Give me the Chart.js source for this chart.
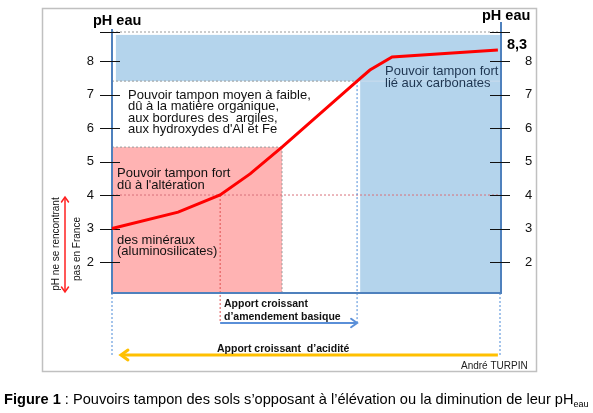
<!DOCTYPE html>
<html>
<head>
<meta charset="utf-8">
<script src="https://cdn.jsdelivr.net/npm/chart.js@4"></script>
<style>
  body { margin: 0; background: #fff; font-family: "Liberation Sans", Arial, sans-serif; }
  #wrap { position: relative; width: 593px; height: 413px; }
  #caption { position: absolute; left: 4px; top: 391px; font-size: 14.6px; line-height: 17px; color: #000; white-space: nowrap; }
  #caption sub { font-size: 9px; vertical-align: -3px; }
</style>
</head>
<body>
<div id="wrap">
  <canvas id="myChart" width="593" height="413"></canvas>
  <div id="caption"><b>Figure 1</b> : Pouvoirs tampon des sols s’opposant à l’élévation ou la diminution de leur pH<sub>eau</sub></div>
</div>
<script>
// soil pH curve (x = relative position along the diagram, 0..10)
var curveX = [0, 1.7, 2.78, 3.55, 4.37, 6.3, 6.63, 7.2, 9.92];
var curvePH = [3.0, 3.49, 4.0, 4.63, 5.43, 7.4, 7.73, 8.12, 8.33];
var phTicks = [2, 3, 4, 5, 6, 7, 8];
var phMin = 1.075, phMax = 8.866;

// buffer zones: [from, to]
var alterX = [0, 4.37],   alterPH = [phMin, 5.43];   // pink
var topX = [0.1, 10],     topPH = [7.4, 8.78];       // blue band
var carbX = [6.38, 10],   carbPH = [phMin, 7.4];     // blue column
var acidLimit = 4;                                    // pH not found in France below
var limeX = [2.78, 6.3];                              // basic amendment arrow
var acidX = [9.92, 0.23];                             // acidity arrow
var endValue = "8,3";

var FONT = '"Liberation Sans", Arial, sans-serif';

function line(ctx, x0, y0, x1, y1, color, width, dash) {
  ctx.save();
  ctx.strokeStyle = color;
  ctx.lineWidth = width;
  ctx.setLineDash(dash || []);
  ctx.beginPath();
  ctx.moveTo(x0, y0);
  ctx.lineTo(x1, y1);
  ctx.stroke();
  ctx.restore();
}

function head(ctx, x, y, dx, dy, color, width, size) {
  // open chevron, tip at (x,y), pointing along (dx,dy)
  ctx.save();
  ctx.strokeStyle = color;
  ctx.lineWidth = width;
  ctx.lineCap = 'round';
  ctx.beginPath();
  var nx = -dy, ny = dx;
  ctx.moveTo(x - dx * size + nx * size * 0.7, y - dy * size + ny * size * 0.7);
  ctx.lineTo(x, y);
  ctx.lineTo(x - dx * size - nx * size * 0.7, y - dy * size - ny * size * 0.7);
  ctx.stroke();
  ctx.restore();
}

function text(ctx, lines, x, y, size, color, lh, weight) {
  ctx.save();
  ctx.font = (weight || '') + ' ' + size + 'px ' + FONT;
  ctx.fillStyle = color;
  ctx.textAlign = 'left';
  ctx.textBaseline = 'alphabetic';
  lines.forEach(function (s, i) { ctx.fillText(s, x, y + i * lh); });
  ctx.restore();
}

function rotated(ctx, s, x, y) {
  ctx.save();
  ctx.font = '10px ' + FONT;
  ctx.fillStyle = '#111';
  ctx.textAlign = 'center';
  ctx.textBaseline = 'middle';
  ctx.translate(x, y);
  ctx.rotate(-Math.PI / 2);
  ctx.fillText(s, 0, 0);
  ctx.restore();
}

var diagram = {
  id: 'diagram',
  beforeDatasetsDraw: function (chart) {
    var ctx = chart.ctx, a = chart.chartArea;
    var sx = chart.scales.x, sy = chart.scales.y;
    var px = function (v) { return sx.getPixelForValue(v); };
    var py = function (v) { return sy.getPixelForValue(v); };
    function rect(xs, ys, color) {
      ctx.fillStyle = color;
      ctx.fillRect(px(xs[0]), py(ys[1]), px(xs[1]) - px(xs[0]), py(ys[0]) - py(ys[1]));
    }

    // outer frame
    ctx.save();
    ctx.strokeStyle = '#c0c0c0';
    ctx.lineWidth = 1.5;
    ctx.strokeRect(42.5, 8.5, 494, 363);
    ctx.restore();

    // zones
    rect(topX, topPH, '#b4d4ec');
    rect(carbX, carbPH, '#b4d4ec');
    rect(alterX, alterPH, '#ffb3b3');
    line(ctx, px(carbX[0]), py(topPH[0]), a.right, py(topPH[0]), '#c8dcee', 1);

    // dotted guides
    line(ctx, a.left, py(phMax), a.right, py(phMax), '#9a9a9a', 1, [2, 2]);
    line(ctx, a.left, py(topPH[0]), px(carbX[0]), py(topPH[0]), '#9a9a9a', 1, [2, 2]);
    line(ctx, a.left, py(alterPH[1]), px(alterX[1]), py(alterPH[1]), '#9a9a9a', 1, [2, 2]);
    line(ctx, px(alterX[1]), py(alterPH[1]), px(alterX[1]), a.bottom, '#9a9a9a', 1, [2, 2]);
    line(ctx, a.left, py(acidLimit), a.right, py(acidLimit), '#d9707a', 1, [2, 2]);
    line(ctx, px(limeX[0]), py(acidLimit), px(limeX[0]), a.bottom + 30, '#e05050', 1, [2, 2]);
    line(ctx, px(limeX[1]), py(topPH[0]), px(limeX[1]), a.bottom + 30, '#4a8ad8', 1, [2, 2]);
    line(ctx, a.left, a.bottom, a.left, a.bottom + 62, '#4a8ad8', 1, [2, 2]);
    line(ctx, a.right - 1, a.bottom, a.right - 1, a.bottom + 62, '#4a8ad8', 1, [2, 2]);

    // zone texts
    text(ctx, ['Pouvoir tampon moyen à faible,', 'dû à la matière organique,', 'aux bordures des  argiles,', "aux hydroxydes d'Al et Fe"], 128, 98.5, 13, '#111', 11.6);
    text(ctx, ['Pouvoir tampon fort', "dû à l'altération"], 117, 177, 13, '#111', 11.6);
    text(ctx, ['des minéraux', '(aluminosilicates)'], 117, 243.5, 13, '#111', 11.8);
    text(ctx, ['Pouvoir tampon fort', 'lié aux carbonates'], 385, 74.5, 13, '#1e3550', 12);

    // axes
    line(ctx, a.left, py(phMax) - 3, a.left, a.bottom + 1, '#4f81bd', 2);
    line(ctx, a.right, 22, a.right, a.bottom + 1, '#4f81bd', 2);
    line(ctx, a.left, a.bottom, a.right, a.bottom, '#4f81bd', 2);
    phTicks.concat([phMax]).forEach(function (v) {
      var yy = Math.round(py(v)) + 0.5;
      line(ctx, a.left - 12, yy, a.left + 8, yy, '#111', 1);
      line(ctx, a.right - 11, yy, a.right + 9, yy, '#111', 1);
    });
  },
  afterDraw: function (chart) {
    var ctx = chart.ctx, a = chart.chartArea;
    var sx = chart.scales.x;
    var px = function (v) { return sx.getPixelForValue(v); };

    // axis titles
    text(ctx, ['pH eau'], 93, 25, 14.5, '#000', 0, 'bold');
    text(ctx, ['pH eau'], 482, 20, 14.5, '#000', 0, 'bold');
    text(ctx, [endValue], 507, 49, 14.5, '#000', 0, 'bold');

    // acid limit double arrow + rotated note
    line(ctx, 65, 198, 65, 291, '#ff2020', 1.5);
    head(ctx, 65, 197, 0, -1, '#ff2020', 1.5, 5);
    head(ctx, 65, 292, 0, 1, '#ff2020', 1.5, 5);
    rotated(ctx, 'pH ne se rencontrant', 56, 244);
    rotated(ctx, 'pas en France', 77, 249);

    // basic amendment arrow
    var yl = a.bottom + 30;
    line(ctx, px(limeX[0]), yl, px(limeX[1]) - 1, yl, '#5a8fd8', 2);
    head(ctx, px(limeX[1]), yl, 1, 0, '#5a8fd8', 2, 6);
    text(ctx, ['Apport croissant', 'd\u2019amendement basique'], 224, 307, 10.5, '#111', 13, 'bold');

    // acidity arrow
    var ya = a.bottom + 62;
    line(ctx, px(acidX[0]), ya, px(acidX[1]) + 1, ya, '#ffc000', 3);
    head(ctx, px(acidX[1]), ya, -1, 0, '#ffc000', 3, 7);
    text(ctx, ['Apport croissant  d\u2019acidit\u00e9'], 217, 352, 10.5, '#111', 0, 'bold');

    text(ctx, ['André TURPIN'], 461, 369, 10, '#222', 0);
  }
};

new Chart('myChart', {
  type: 'line',
  data: {
    datasets: [{
      data: curveX.map(function (v, i) { return { x: v, y: curvePH[i] }; }),
      borderColor: '#ff0000',
      borderWidth: 3,
      pointRadius: 0,
      tension: 0,
      fill: false,
      clip: false,
      yAxisID: 'y'
    }]
  },
  options: {
    responsive: false,
    animation: false,
    events: [],
    layout: { padding: { top: 32, bottom: 120, left: 0, right: 0 } },
    plugins: { legend: { display: false }, tooltip: { enabled: false } },
    scales: {
      x: { type: 'linear', min: 0, max: 10, display: false },
      y: {
        position: 'left', min: phMin, max: phMax,
        grid: { display: false, drawTicks: false }, border: { display: false },
        afterBuildTicks: function (s) { s.ticks = phTicks.map(function (v) { return { value: v }; }); },
        afterFit: function (s) { s.width = 112; },
        ticks: { padding: 18, color: '#111', font: { family: FONT, size: 13 } }
      },
      y2: {
        position: 'right', min: phMin, max: phMax,
        grid: { display: false, drawTicks: false }, border: { display: false },
        afterBuildTicks: function (s) { s.ticks = phTicks.map(function (v) { return { value: v }; }); },
        afterFit: function (s) { s.width = 92; },
        ticks: { padding: 24, color: '#111', font: { family: FONT, size: 13 } }
      }
    }
  },
  plugins: [diagram]
});
</script>
</body>
</html>
